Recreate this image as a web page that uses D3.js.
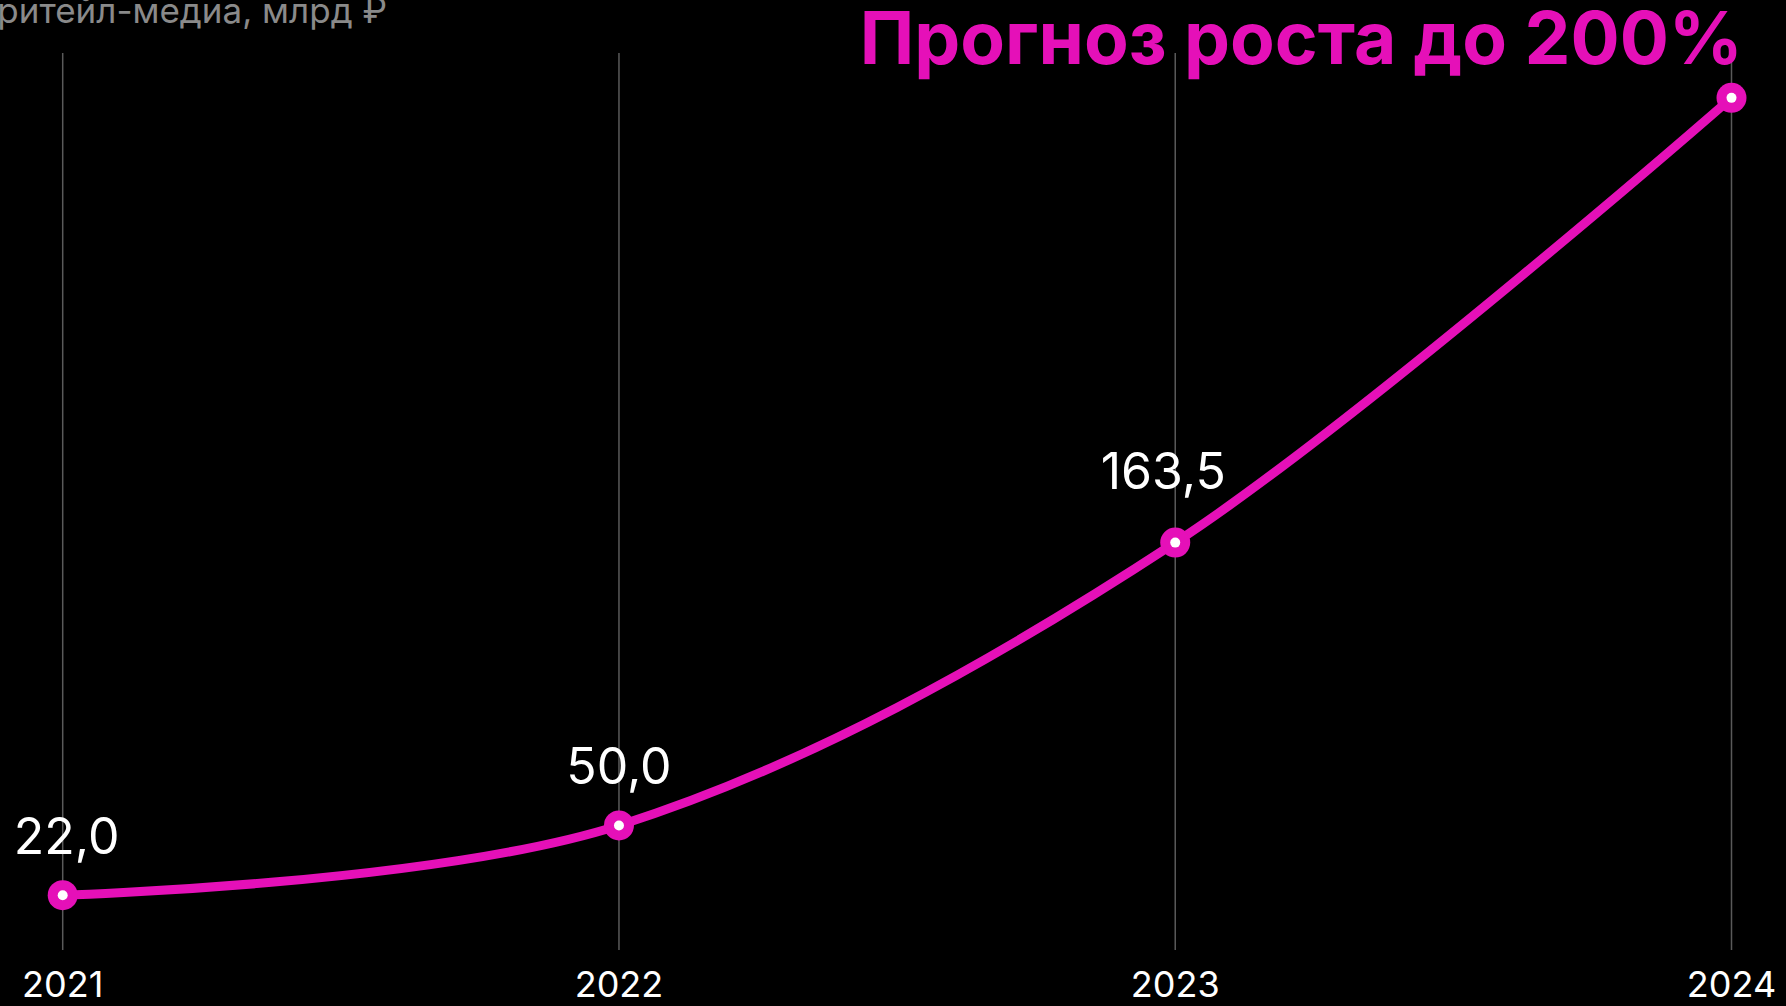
<!DOCTYPE html>
<html>
	<head>
		<meta charset="UTF-8">
		<title></title>
		<script src="https://d3js.org/d3.v7.min.js"></script>
		<style>
			html, body { margin: 0; padding: 0; background: #000; overflow: hidden; }
		</style>
	</head>
	<body>
		<div id="chart"></div>
		<script>
      // данные
      const years = ['2021', '2022', '2023', '2024']
      const values = [22.0, 50.0, 163.5, 342]
      const valueLabels = ['22,0', '50,0', '163,5', '']
      // сдвиг подписей, чтобы не налезали на линию
      const labelShift = [[4, 0], [0, 0], [-12, -13], [0, 0]]

      const title = 'Прогноз роста до 200%'
      const subtitle = 'Рынок ритейл-медиа, млрд ₽'

      const W = 1786, H = 1006
      const pink = '#e510b8'

      const svg = d3.select('#chart').append('svg').attr('width', W).attr('height', H)
      svg.append('rect').attr('width', W).attr('height', H).attr('fill', '#000')

      const x = d3.scalePoint().domain(years).range([62.7, 1731.5])
      const y = d3.scaleLinear().domain([0, 360]).range([950, 53])

      // вертикальные линии сетки
      svg.selectAll('line.grid').data(years).enter().append('line')
          .attr('class', 'grid')
          .attr('x1', d => x(d)).attr('x2', d => x(d))
          .attr('y1', y(360)).attr('y2', y(0))
          .attr('stroke', '#5a5a5a').attr('stroke-width', 1.5)

      // подписи лет
      svg.selectAll('text.year').data(years).enter().append('text')
          .attr('class', 'year')
          .attr('x', d => x(d)).attr('y', 997)
          .attr('text-anchor', 'middle').attr('fill', '#fff')
          .attr('font-family', 'Inter').attr('font-size', 36)
          .text(d => d)

      // подпись оси (обрезана слева, как в оригинале) и заголовок
      svg.append('text')
          .attr('x', 387).attr('y', 23)
          .attr('text-anchor', 'end').attr('fill', '#8a8a8a')
          .attr('font-family', 'Inter').attr('font-size', 35)
          .text(subtitle)

      svg.append('text')
          .attr('x', 1743).attr('y', 64)
          .attr('text-anchor', 'end').attr('fill', pink)
          .attr('font-family', 'Inter').attr('font-weight', 700).attr('font-size', 73)
          .text(title)

      // линия
      const line = d3.line()
          .x((d, i) => x(years[i]))
          .y(d => y(d))
          .curve(d3.curveCardinal.tension(0))

      svg.append('path').datum(values)
          .attr('d', line)
          .attr('fill', 'none').attr('stroke', pink).attr('stroke-width', 9)

      // точки
      svg.selectAll('circle.outer').data(values).enter().append('circle')
          .attr('class', 'outer')
          .attr('cx', (d, i) => x(years[i])).attr('cy', d => y(d))
          .attr('r', 15).attr('fill', pink)

      svg.selectAll('circle.inner').data(values).enter().append('circle')
          .attr('class', 'inner')
          .attr('cx', (d, i) => x(years[i])).attr('cy', d => y(d))
          .attr('r', 5).attr('fill', '#fff')

      // значения
      svg.selectAll('text.val').data(values).enter().append('text')
          .attr('class', 'val')
          .attr('x', (d, i) => x(years[i]) + labelShift[i][0])
          .attr('y', (d, i) => y(d) - 41 + labelShift[i][1])
          .attr('text-anchor', 'middle').attr('fill', '#fff')
          .attr('font-family', 'Inter').attr('font-size', 50)
          .text((d, i) => valueLabels[i])
		</script>
	</body>
</html>
